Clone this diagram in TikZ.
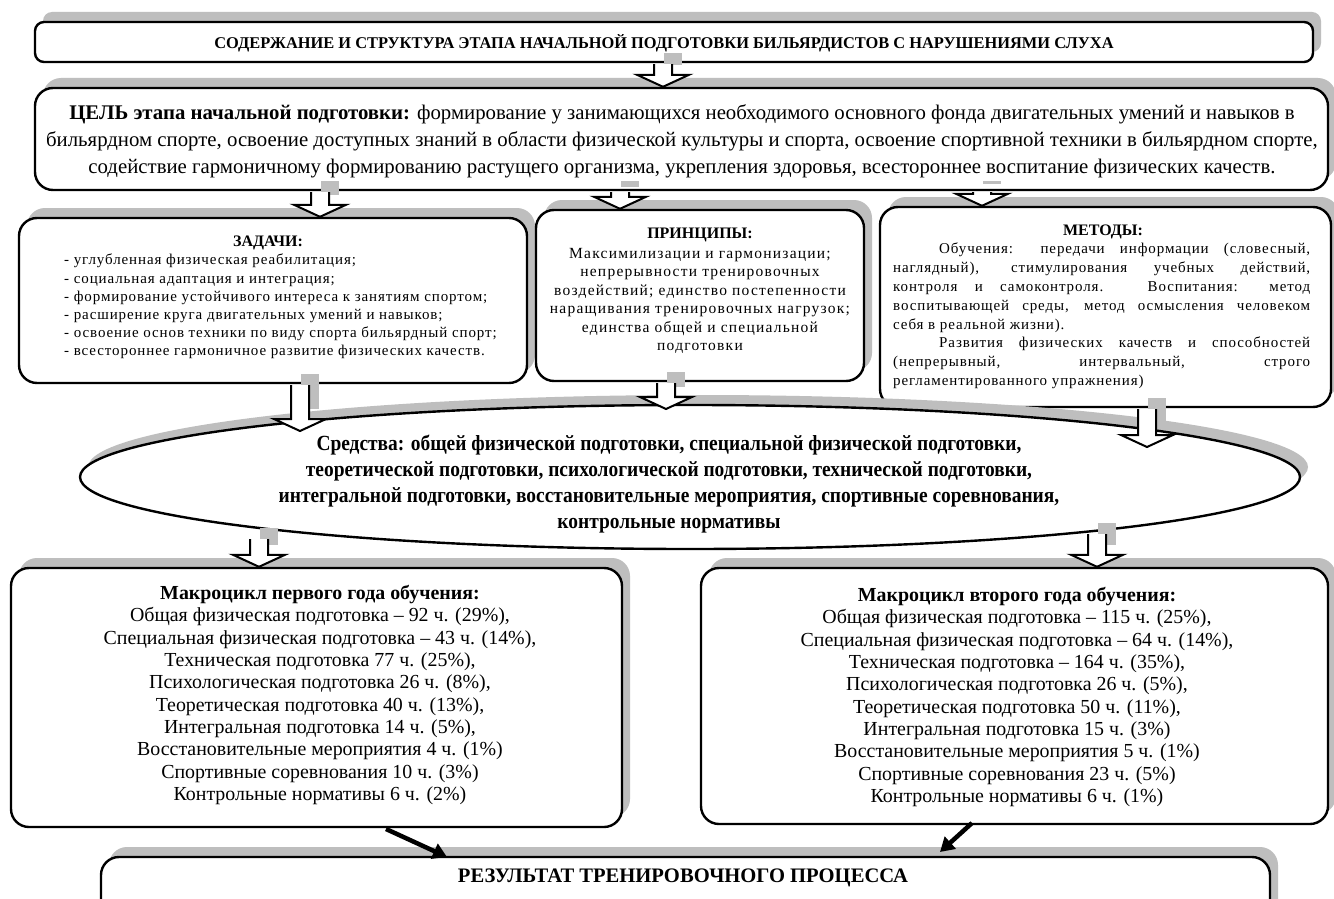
\documentclass[tikz,border=0pt]{standalone}
\usepackage{fontspec}
\setmainfont{Liberation Serif}
\newfontfamily\spc{Liberation Serif}[LetterSpace=6]
\newfontfamily\spcw{Liberation Serif}[LetterSpace=8]
\newfontfamily\cnd{Liberation Serif}[FakeStretch=0.9]
\usetikzlibrary{arrows.meta,calc,shapes.geometric,shadows}
\definecolor{shadowgray}{RGB}{190,190,190}
\tikzset{
  boxst/.style={draw=black, line width=2.4pt, fill=white, rounded corners=18pt, inner sep=0pt,
    drop shadow={shadow xshift=8pt, shadow yshift=10pt, fill=shadowgray, opacity=1}},
  txt/.style={inner sep=0pt, align=center},
  diagarrow/.style={line width=4.5pt, -{Triangle[length=14pt,width=16pt]}},
}
\newcommand{\barrow}[3]{%
  \fill[shadowgray] let \p1=(#2), \p2=(#3) in ({#1pt+1pt},{\y1+10pt}) rectangle ({#1pt+19pt},{\y2+22pt});
  \filldraw[fill=white, draw=black, line width=2pt] let \p1=(#2), \p2=(#3) in
    ({#1pt-9pt},{\y1-1pt}) -- ({#1pt-9pt},{\y2+12pt}) -- ({#1pt-26pt},{\y2+12pt}) -- ({#1pt},{\y2})
    -- ({#1pt+26pt},{\y2+12pt}) -- ({#1pt+9pt},{\y2+12pt}) -- ({#1pt+9pt},{\y1-1pt});
}
\begin{document}
\begin{tikzpicture}[x=1pt,y=-1pt]
\useasboundingbox (0,0) rectangle (1334,899);
\clip (0,0) rectangle (1334,899);
\fill[white] (0,0) rectangle (1334,899);

% boxes
\node[boxst, rounded corners=9pt, minimum width=1278pt, minimum height=40pt] (title) at (674,42) {};
\node[boxst, minimum width=1293pt, minimum height=102pt] (goal) at (681.5,139) {};
\node[boxst, minimum width=508pt, minimum height=165pt] (zad) at (273,300.5) {};
\node[boxst, minimum width=328pt, minimum height=171pt] (prin) at (700,295.5) {};
\node[boxst, minimum width=451pt, minimum height=200pt] (met) at (1105.5,307) {};
\node[ellipse, draw=black, line width=2.4pt, fill=white, inner sep=0pt, minimum width=1220pt, minimum height=144pt,
  drop shadow={shadow xshift=8pt, shadow yshift=10pt, fill=shadowgray, opacity=1}] (sred) at (690,477) {};
\node[boxst, minimum width=611pt, minimum height=259pt] (mc1) at (316.5,697.5) {};
\node[boxst, minimum width=627pt, minimum height=256pt] (mc2) at (1014.5,696) {};
\node[boxst, minimum width=1169pt, minimum height=80pt] (res) at (685.5,897) {};

% texts
\node[txt, font=\fontsize{16.4}{19}\selectfont\bfseries] (titletxt) at (664,43)
  {СОДЕРЖАНИЕ И СТРУКТУРА ЭТАПА НАЧАЛЬНОЙ ПОДГОТОВКИ БИЛЬЯРДИСТОВ С НАРУШЕНИЯМИ СЛУХА};
\node[txt, font=\fontsize{20.8}{27}\selectfont] (goaltxt) at (682,141)
  {{\bfseries ЦЕЛЬ этапа начальной подготовки:} формирование у занимающихся необходимого основного фонда двигательных умений и навыков в\\
   бильярдном спорте, освоение доступных знаний в области физической культуры и спорта, освоение спортивной техники в бильярдном спорте,\\
   содействие гармоничному формированию растущего организма, укрепления здоровья, всестороннее воспитание физических качеств.};

\node[txt, font=\fontsize{16}{18}\selectfont\bfseries] (zadh) at (268,243) {ЗАДАЧИ:};
\node[inner sep=0pt, align=left, anchor=north west, font=\spc\fontsize{15}{18.2}\selectfont] (zadtxt) at (64,254)
  {- углубленная физическая реабилитация;\\
   - социальная адаптация и интеграция;\\
   - формирование устойчивого интереса к занятиям спортом;\\
   - расширение круга двигательных умений и навыков;\\
   - освоение основ техники по виду спорта бильярдный спорт;\\
   - всестороннее гармоничное развитие физических качеств.};

\node[txt, font=\fontsize{16}{18}\selectfont\bfseries] (prinh) at (700,235) {ПРИНЦИПЫ:};
\node[txt, font=\spcw\fontsize{15.5}{18.4}\selectfont] (printxt) at (700,301)
  {Максимилизации и гармонизации;\\
   непрерывности тренировочных\\
   воздействий; единство постепенности\\
   наращивания тренировочных нагрузок;\\
   единства общей и специальной\\
   подготовки};

\node[txt, font=\fontsize{16}{18}\selectfont\bfseries] (meth) at (1103,232) {МЕТОДЫ:};
\node[inner sep=0pt, align=left, anchor=north west, font=\spc\fontsize{15}{18.8}\selectfont] (mettxt) at (893,243)
  {\makebox[417pt][s]{\hspace*{46pt}Обучения: передачи информации (словесный,}\\
   \makebox[417pt][s]{наглядный), стимулирования учебных действий,}\\
   \makebox[417pt][s]{контроля и самоконтроля. Воспитания: метод}\\
   \makebox[417pt][s]{воспитывающей среды, метод осмысления человеком}\\
   себя в реальной жизни).\\
   \makebox[417pt][s]{\hspace*{46pt}Развития физических качеств и способностей}\\
   \makebox[417pt][s]{(непрерывный, интервальный, строго}\\
   регламентированного упражнения)};

\node[txt, font=\cnd\bfseries\fontsize{21.6}{26}\selectfont] (sredtxt) at (669,484)
  {Средства: общей физической подготовки, специальной физической подготовки,\\
   теоретической подготовки, психологической подготовки, технической подготовки,\\
   интегральной подготовки, восстановительные мероприятия, спортивные соревнования,\\
   контрольные нормативы};

\node[txt, font=\fontsize{19.9}{22.3}\selectfont] (mc1txt) at (320,695)
  {{\bfseries Макроцикл первого года обучения:}\\
   Общая физическая подготовка – 92 ч. (29\%),\\
   Специальная физическая подготовка – 43 ч. (14\%),\\
   Техническая подготовка 77 ч. (25\%),\\
   Психологическая подготовка 26 ч. (8\%),\\
   Теоретическая подготовка 40 ч. (13\%),\\
   Интегральная подготовка 14 ч. (5\%),\\
   Восстановительные мероприятия 4 ч. (1\%)\\
   Спортивные соревнования 10 ч. (3\%)\\
   Контрольные нормативы 6 ч. (2\%)};

\node[txt, font=\fontsize{19.9}{22.3}\selectfont] (mc2txt) at (1017,697)
  {{\bfseries Макроцикл второго года обучения:}\\
   Общая физическая подготовка – 115 ч. (25\%),\\
   Специальная физическая подготовка – 64 ч. (14\%),\\
   Техническая подготовка – 164 ч. (35\%),\\
   Психологическая подготовка 26 ч. (5\%),\\
   Теоретическая подготовка 50 ч. (11\%),\\
   Интегральная подготовка 15 ч. (3\%)\\
   Восстановительные мероприятия 5 ч. (1\%)\\
   Спортивные соревнования 23 ч. (5\%)\\
   Контрольные нормативы 6 ч. (1\%)};

\node[txt, font=\fontsize{20.6}{22}\selectfont\bfseries] (restxt) at (683,878) {РЕЗУЛЬТАТ ТРЕНИРОВОЧНОГО ПРОЦЕССА};

% arrow end points on the ellipse
\coordinate (e1) at (300,431);
\coordinate (e2) at (666,409);
\coordinate (e3) at (1147,447);
\coordinate (e4) at (259,538);
\coordinate (e5) at (1097,533);

% block arrows
\barrow{663}{title.south}{goal.north}
\barrow{320}{goal.south}{zad.north}
\barrow{620}{goal.south}{prin.north}
\barrow{982}{goal.south}{met.north}
\barrow{300}{zad.south}{e1}
\barrow{666}{prin.south}{e2}
\barrow{1147}{met.south}{e3}
\barrow{259}{e4}{mc1.north}
\barrow{1097}{e5}{mc2.north}

% diagonal arrows
\coordinate (d1s) at (386,829);
\coordinate (d1e) at (447,857);
\coordinate (d2s) at (972,823);
\coordinate (d2e) at (940,852);
\draw[diagarrow] (d1s) -- (d1e);
\draw[diagarrow] (d2s) -- (d2e);
\end{tikzpicture}
\end{document}
